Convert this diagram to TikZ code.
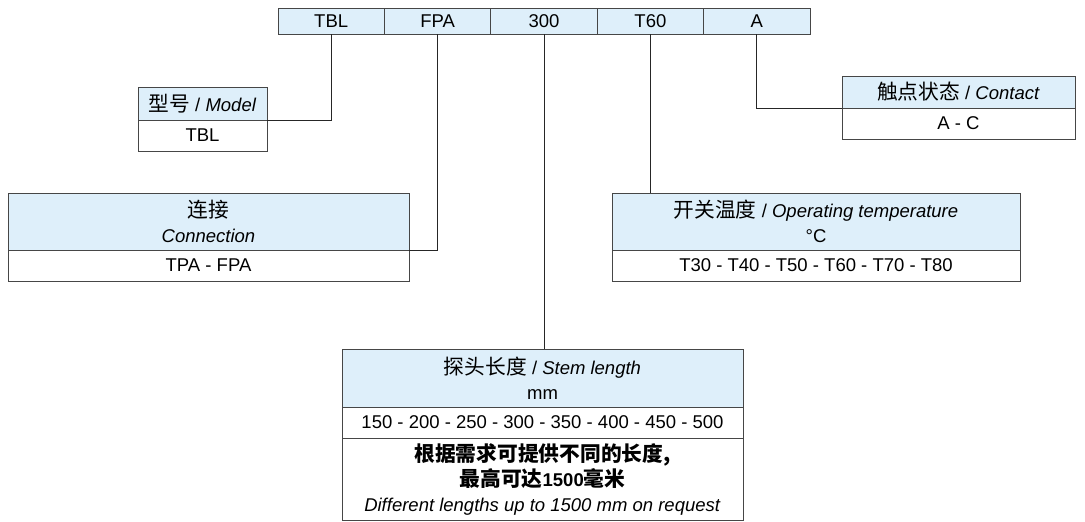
\documentclass[tikz,border=0pt]{standalone}
\usepackage{fontspec}
\setmainfont{Liberation Sans}
\newfontfamily\cjk{Noto Sans CJK SC}[Scale=1.12]
\usetikzlibrary{positioning}
\definecolor{hdrblue}{RGB}{222,239,250}
\definecolor{rulegray}{RGB}{70,70,70}
\newcommand{\zh}[1]{{\cjk #1}}
\tikzset{
	txt/.style={font=\fontsize{18.5}{25}\selectfont,inner sep=0pt,outer sep=0pt,align=center,line width=1pt},
	cell/.style={txt,draw=rulegray,fill=hdrblue,minimum width=106.4pt,minimum height=26pt},
	head/.style={txt,draw=rulegray,fill=hdrblue,anchor=north west},
	body/.style={txt,draw=rulegray,fill=white},
	link/.style={draw=black!85,line width=1pt}
}

\begin{document}
\begin{tikzpicture}[x=1pt,y=-1pt]
	\useasboundingbox (0,0) rectangle (1085,522);

	\node[cell]					(tbl)	at (331.2,21)	{TBL};
	\node[cell,right=0pt of tbl]	(fpa)					{FPA};
	\node[cell,right=0pt of fpa]	(len)					{300};
	\node[cell,right=0pt of len]	(temp)					{T60};
	\node[cell,right=0pt of temp]	(cont)					{A};

	\node[head,minimum width=129pt,minimum height=33pt]	(model)	at (138,87)		{\zh{型号} / \textit{Model}};
	\node[body,minimum width=129pt,minimum height=31pt,below=0pt of model]	(modelv)	{TBL};

	\node[head,minimum width=401pt,minimum height=57pt]	(conn)	at (8,193)		{\zh{连接}\\\textit{Connection}};
	\node[body,minimum width=401pt,minimum height=31pt,below=0pt of conn]	(connv)	{TPA - FPA};

	\node[head,minimum width=408pt,minimum height=57pt]	(optemp)	at (612,193)	{\zh{开关温度} / \textit{Operating temperature}\\°C};
	\node[body,minimum width=408pt,minimum height=31pt,below=0pt of optemp]	(optempv)	{T30 - T40 - T50 - T60 - T70 - T80};

	\node[head,minimum width=233pt,minimum height=32pt]	(contact)	at (842,76)	{\zh{触点状态} / \textit{Contact}};
	\node[body,minimum width=233pt,minimum height=31pt,below=0pt of contact]	(contactv)	{A - C};

	\node[head,minimum width=401pt,minimum height=58pt]	(stem)	at (342,349)	{\zh{探头长度} / \textit{Stem length}\\mm};
	\node[body,minimum width=401pt,minimum height=31pt,below=0pt of stem]	(stemv)	{150 - 200 - 250 - 300 - 350 - 400 - 450 - 500};
	\node[body,minimum width=401pt,minimum height=82pt,below=0pt of stemv]	(stemx)
		{\bfseries\zh{根据需求可提供不同的长度,}\\\bfseries\zh{最高可达}1500\zh{毫米}\\\textit{Different lengths up to 1500 mm on request}};

	\draw[link]	(tbl.south)		|- (model.south east);
	\draw[link]	(fpa.south)		|- (conn.south east);
	\draw[link]	(len.south)		-- (len.south |- stem.north);
	\draw[link]	(temp.south)	-- (temp.south |- optemp.north);
	\draw[link]	(cont.south)	|- (contact.south west);
\end{tikzpicture}
\end{document}
